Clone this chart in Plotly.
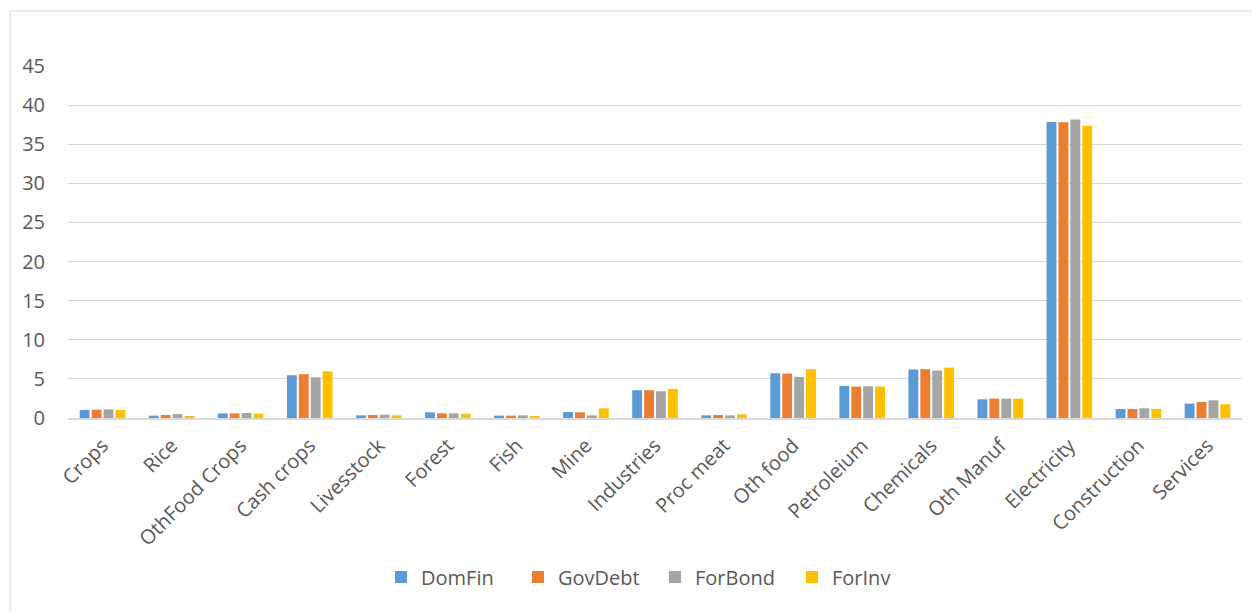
import plotly.graph_objects as go

categories = ["Crops", "Rice", "OthFood Crops", "Cash crops", "Livesstock", "Forest", "Fish",
              "Mine", "Industries", "Proc meat", "Oth food", "Petroleium", "Chemicals",
              "Oth Manuf", "Electricity", "Construction", "Services"]
dom_fin = [1.03, 0.30, 0.60, 5.47, 0.34, 0.73, 0.30, 0.77, 3.55, 0.34, 5.73, 4.10, 6.20, 2.39, 37.84, 1.15, 1.84]
gov_debt = [1.07, 0.38, 0.60, 5.60, 0.38, 0.60, 0.30, 0.73, 3.55, 0.38, 5.68, 4.02, 6.24, 2.48, 37.80, 1.15, 2.05]
for_bond = [1.10, 0.50, 0.64, 5.20, 0.43, 0.60, 0.34, 0.34, 3.42, 0.34, 5.26, 4.06, 6.07, 2.48, 38.15, 1.24, 2.26]
for_inv = [1.03, 0.20, 0.55, 5.98, 0.34, 0.55, 0.26, 1.24, 3.72, 0.47, 6.24, 4.02, 6.45, 2.48, 37.37, 1.15, 1.75]

series = [("DomFin", dom_fin, "#5B9BD5"), ("GovDebt", gov_debt, "#ED7D31"),
          ("ForBond", for_bond, "#A5A5A5"), ("ForInv", for_inv, "#FFC000")]

FONT = "Open Sans"
TXT = "#595959"
GRID = "#D9D9D9"
FS = 20

fig = go.Figure()
for name, vals, col in series:
    fig.add_trace(go.Bar(x=categories, y=vals, name=name, marker=dict(color=col, line=dict(width=0))))

W, H = 1252, 612
L, R, T, B = 68, 10, 66, 194
pw, ph = W - L - R, H - T - B

fig.update_layout(
    width=W, height=H,
    margin=dict(l=L, r=R, t=T, b=B, pad=0),
    paper_bgcolor="white", plot_bgcolor="white",
    barmode="group", bargap=0.31, bargroupgap=0.17,
    font=dict(family=FONT, size=FS, color=TXT),
    showlegend=True,
    legend=dict(orientation="h", x=(381 - L) / pw, xanchor="left", y=(418 - 577) / ph, yanchor="middle",
                font=dict(family=FONT, size=FS, color=TXT), entrywidth=92, entrywidthmode="pixels",
                itemclick=False, bgcolor="rgba(0,0,0,0)"),
    xaxis=dict(tickangle=-45, showgrid=False, showline=True, linecolor=GRID, linewidth=2,
               ticks="", ticklabelstandoff=6, tickfont=dict(family=FONT, size=FS, color=TXT)),
    yaxis=dict(range=[0, 45], tick0=0, dtick=5, showgrid=True, gridcolor=GRID, gridwidth=1,
               zeroline=False, showline=False, ticks="", ticklabelstandoff=22,
               tickfont=dict(family=FONT, size=FS, color=TXT)),
    shapes=[dict(type="rect", xref="paper", yref="paper",
                 x0=(10 - L) / pw, x1=(W + 20 - L) / pw,
                 y0=(418 - (H + 20)) / ph, y1=(418 - 11) / ph,
                 line=dict(color=GRID, width=1), fillcolor="rgba(0,0,0,0)", layer="below")],
)

fig.write_html("out.html")
